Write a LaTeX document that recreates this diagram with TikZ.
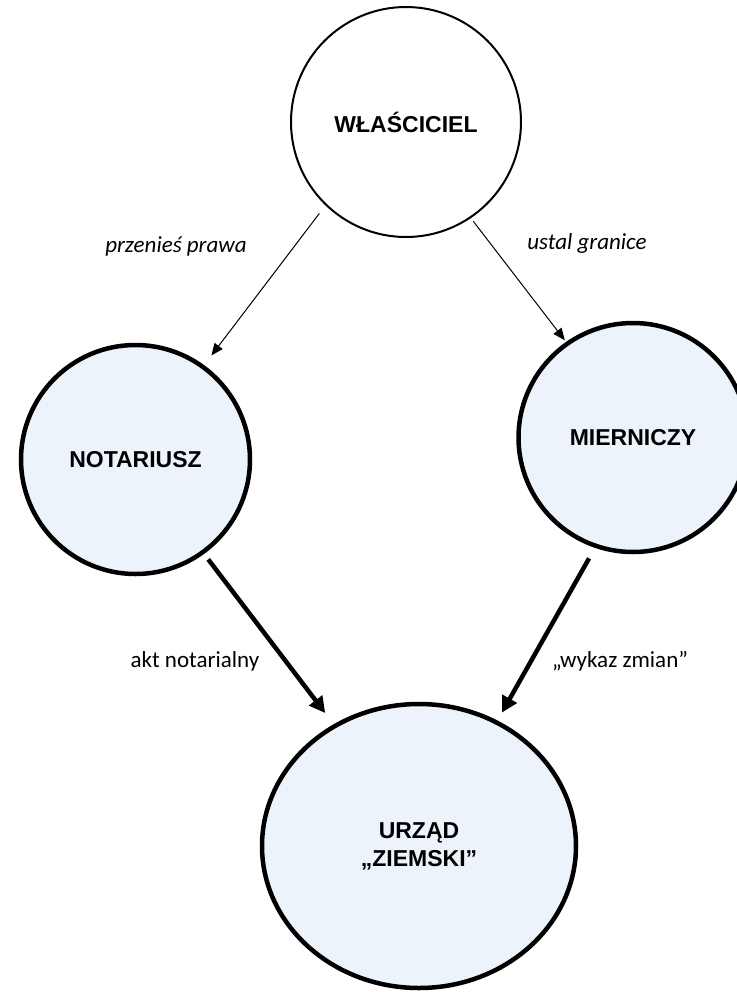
\documentclass[tikz,border=0pt]{standalone}
\usepackage{fontspec}
\setmainfont{Carlito}
\newfontfamily\arialfont{Liberation Sans}
\usetikzlibrary{arrows.meta}
\usetikzlibrary{shapes}
\definecolor{officefill}{RGB}{237,243,250}

\begin{document}
\begin{tikzpicture}[x=0.5pt,y=-0.5pt,
                owner/.style={circle, draw, line width=1pt, minimum size=115pt, inner sep=0pt,
                    font=\arialfont\bfseries\fontsize{11.5}{14}\selectfont},
                office/.style={circle, draw, line width=2.25pt, fill=officefill, minimum size=114.5pt,
                    inner sep=0pt, align=center, font=\arialfont\bfseries\fontsize{11.5}{14}\selectfont},
                note/.style={font=\fontsize{11.5}{14}\selectfont},
                thinarrow/.style={draw,line width=0.5pt,-{Triangle[length=6pt,width=5pt]}},
                arrow/.style={draw,line width=2.25pt,-{Triangle[length=8pt,width=8pt]}}
            ]
            \useasboundingbox (0,0) rectangle (737,992);
            \clip (0,0) rectangle (737,992);
            \node[owner](wl) at (406,122) {WŁAŚCICIEL};
            \node[office](not) at (135.5,459.5) {NOTARIUSZ};
            \node[office](mi) at (633,437.5) {MIERNICZY};
            \node[office, ellipse, minimum width=157pt, minimum height=142pt](urz) at (419,846) {URZĄD\\„ZIEMSKI”};
            \path[thinarrow, shorten <=5pt, shorten >=6pt] (wl.226.6) -- (not.54);
            \path[thinarrow, shorten <=2pt, shorten >=1pt] (wl.304.4) -- (mi.125.3);
            \path[arrow, shorten <=3.4pt, shorten >=7pt] (not.306.6) -- (urz.125);
            \path[arrow, shorten <=6pt, shorten >=4.5pt] (mi.251.1) -- (urz.58.8);
            \node[note, font=\itshape\fontsize{11.5}{14}\selectfont](przen) at (176,246) {przenieś prawa};
            \node[note, font=\itshape\fontsize{11.5}{14}\selectfont](ustal) at (587,243) {ustal granice};
            \node[note](akt) at (195,661) {akt notarialny};
            \node[note](wykaz) at (620,661) {„wykaz zmian”};
        \end{tikzpicture}
\end{document}
